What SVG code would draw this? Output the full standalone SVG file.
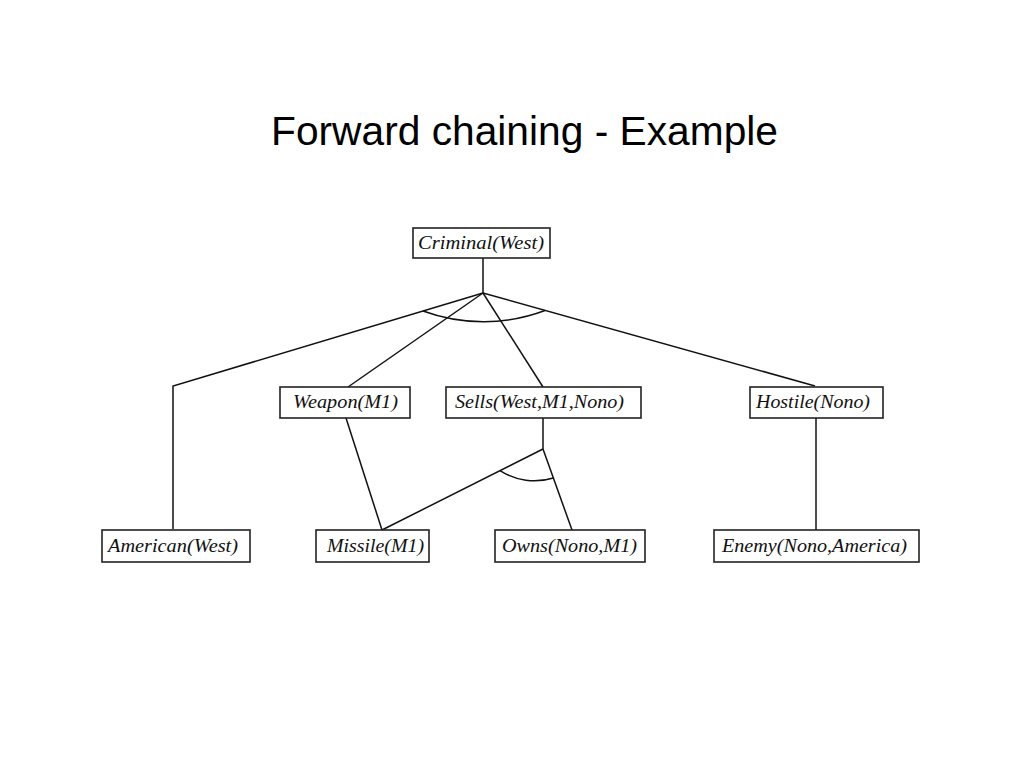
<svg xmlns="http://www.w3.org/2000/svg" width="1023" height="767" viewBox="0 0 1023 767">
<style>
.bg{fill:#ffffff}
.box{fill:#ffffff;stroke:#222222;stroke-width:1.6}
.lbl{font-family:"Liberation Serif","Times New Roman",serif;font-style:italic;font-size:18px;fill:#111111}
.title{font-family:"Liberation Sans",Arial,sans-serif;font-size:41px;fill:#000000}
.ln{fill:none;stroke:#111111;stroke-width:1.5}
</style>
<rect class="bg" x="0" y="0" width="1023" height="767"/>
<text class="title" x="271" y="145" textLength="507" lengthAdjust="spacingAndGlyphs">Forward chaining - Example</text>
<g id="connectors">
<path class="ln" d="M483 258 L483 293"/>
<path class="ln" d="M483 293 L173 386 L173 529"/>
<path class="ln" d="M483 293 L348 387"/>
<path class="ln" d="M483 293 L543 387"/>
<path class="ln" d="M483 293 L815 386"/>
<path class="ln" d="M423 311 A175 175 0 0 0 545 310.5"/>
<path class="ln" d="M543 418 L543 449"/>
<path class="ln" d="M543 449 L382 530"/>
<path class="ln" d="M543 449 L572 530"/>
<path class="ln" d="M346 418 L382 530"/>
<path class="ln" d="M500 470.6 A64 64 0 0 0 553.4 478"/>
<path class="ln" d="M816 418 L816 530"/>
</g>
<g id="criminal">
<rect class="box" x="413" y="228" width="137" height="30"/>
<text class="lbl" x="418" y="249" textLength="126" lengthAdjust="spacingAndGlyphs">Criminal(West)</text>
</g>
<g id="weapon">
<rect class="box" x="280" y="387" width="130" height="31"/>
<text class="lbl" x="293" y="408" textLength="105" lengthAdjust="spacingAndGlyphs">Weapon(M1)</text>
</g>
<g id="sells">
<rect class="box" x="446" y="387" width="195" height="31"/>
<text class="lbl" x="455" y="408" textLength="169" lengthAdjust="spacingAndGlyphs">Sells(West,M1,Nono)</text>
</g>
<g id="hostile">
<rect class="box" x="750" y="387" width="133" height="31"/>
<text class="lbl" x="756" y="408" textLength="114" lengthAdjust="spacingAndGlyphs">Hostile(Nono)</text>
</g>
<g id="american">
<rect class="box" x="102" y="530" width="148" height="32"/>
<text class="lbl" x="108" y="552" textLength="130" lengthAdjust="spacingAndGlyphs">American(West)</text>
</g>
<g id="missile">
<rect class="box" x="316" y="530" width="113" height="32"/>
<text class="lbl" x="327" y="552" textLength="97" lengthAdjust="spacingAndGlyphs">Missile(M1)</text>
</g>
<g id="owns">
<rect class="box" x="495" y="530" width="150" height="32"/>
<text class="lbl" x="502" y="552" textLength="135" lengthAdjust="spacingAndGlyphs">Owns(Nono,M1)</text>
</g>
<g id="enemy">
<rect class="box" x="714" y="530" width="205" height="32"/>
<text class="lbl" x="722" y="552" textLength="185" lengthAdjust="spacingAndGlyphs">Enemy(Nono,America)</text>
</g>
</svg>
